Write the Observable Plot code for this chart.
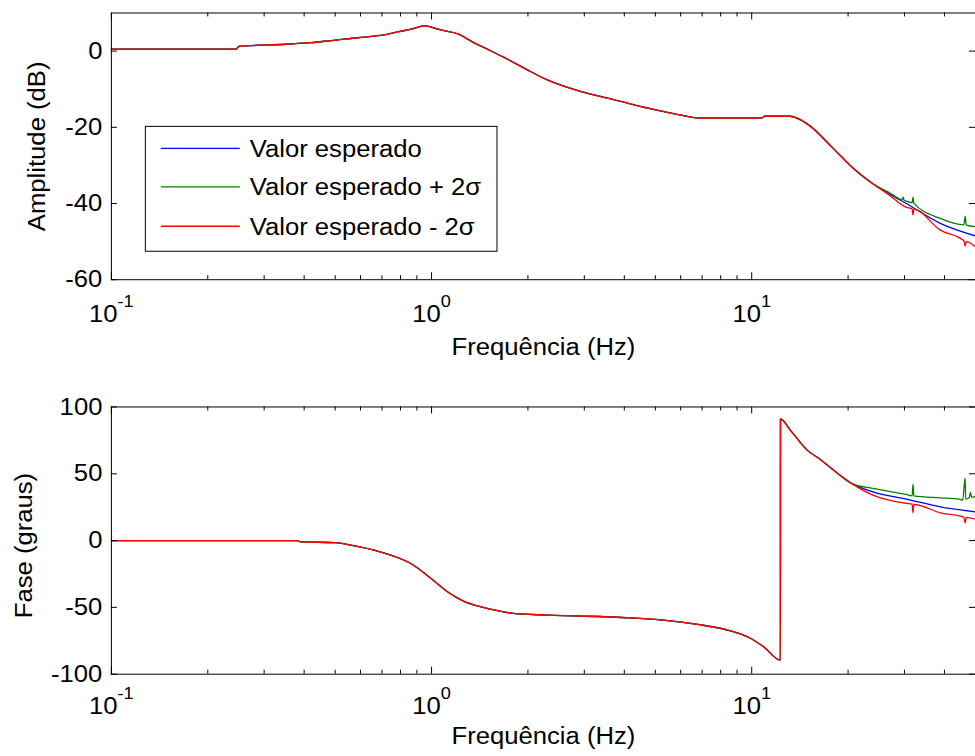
<!DOCTYPE html>
<html><head><meta charset="utf-8">
<script src="https://cdn.jsdelivr.net/npm/d3@7"></script>
<script src="https://cdn.jsdelivr.net/npm/@observablehq/plot@0.6"></script>
<style>
html,body{margin:0;padding:0;background:#fff;overflow:hidden;}
#chart{position:relative;width:975px;height:756px;overflow:hidden;}
#chart svg{display:block;}
</style></head><body><div id="chart"></div>
<script>
// ---------- data ----------
const decadeTicks = [0.1, 1, 10];
const decadeExp = ["-1", "0", "1"];
const minorTicks = [0.2,0.3,0.4,0.5,0.6,0.7,0.8,0.9,2,3,4,5,6,7,8,9,20,30,40];
const magTicks = [-60, -40, -20, 0];
const phaseTicks = [-100, -50, 0, 50, 100];
const legendLabels = ["Valor esperado", "Valor esperado + 2σ", "Valor esperado - 2σ"];
const seriesColors = ["#0000ff", "#008000", "#ff0000"];

// Amplitude (dB) — common part
const magFreqCommon = [0.1, 0.245, 0.25, 0.35, 0.42, 0.48, 0.54, 0.64, 0.72, 0.79, 0.87, 0.944, 1.0, 1.04, 1.21, 1.35, 1.53, 1.68, 2.03, 2.29, 2.98, 3.81, 4.82, 5.7, 6.9, 10.7, 11.0, 13.2, 14.9, 18.0, 20.3, 23.9];
const magCommon = [0.5, 0.5, 1.2, 1.8, 2.2, 2.7, 3.2, 3.8, 4.3, 5.1, 5.8, 6.6, 6.3, 5.8, 4.5, 2.3, 0.1, -1.6, -5.3, -7.5, -10.8, -13.0, -15.1, -16.4, -17.6, -17.6, -17.1, -17.1, -19.1, -25.6, -30.0, -34.8];
// Amplitude tails
const magFreqBlue = [27.1, 30.4, 38.8, 50];
const magBlue = [-37.6, -40.0, -45.2, -48.5];
const magFreqGreen = [27.1, 29.5, 29.7, 29.9, 30.4, 31.7, 31.9, 32.1, 38.8, 46.0, 46.4, 46.8, 50];
const magGreen = [-37.3, -39.0, -38.3, -39.1, -39.4, -39.8, -38.3, -39.9, -43.9, -45.6, -43.3, -45.7, -46.1];
const magFreqRed = [27.1, 30.4, 31.7, 31.9, 32.1, 38.8, 46.0, 46.4, 46.8, 50];
const magRed = [-38.0, -41.0, -41.4, -43.0, -41.5, -47.0, -49.8, -51.2, -50.0, -51.4];

// Phase (graus) — common part
const phFreqCommon = [0.1, 0.38, 0.39, 0.5, 0.56, 0.69, 0.877, 0.992, 1.121, 1.258, 1.42, 1.607, 1.80, 2.30, 4.18, 5.30, 6.77, 8.58, 9.70, 10.9, 12.29, 12.3, 13.2, 14.9, 16.5, 18.0, 20.5];
const phCommon = [0, 0, -1, -1.5, -3.4, -8.4, -18.3, -28, -38.3, -45.3, -49.5, -52.5, -54.5, -55.8, -57.8, -59.5, -62.7, -67.5, -72, -79.5, -89.5, 91, 82.7, 67.7, 60.2, 52.8, 42.8];
// Phase tails
const phFreqBlue = [23.9, 30.4, 38.8, 50];
const phBlue = [36.5, 31, 25.3, 21.5];
const phFreqGreen = [23.9, 30.4, 31.7, 31.9, 32.1, 38.8, 44.5, 45.6, 46.4, 46.6, 47.8, 48.2, 48.6, 50];
const phGreen = [39, 34.5, 33.5, 42, 33.5, 32, 31, 30.3, 47, 31, 32, 36, 32.5, 33];
const phFreqRed = [23.9, 30.4, 31.7, 31.9, 32.1, 38.8, 46.0, 46.4, 46.8, 50];
const phRed = [34, 27.8, 27.2, 20.8, 27, 20.8, 17.5, 13.3, 17.3, 15.9];

// ---------- build ----------
const rows = (fa, va) => fa.map((f, i) => ({f, v: va[i]}));
const magSeries = [
  rows(magFreqCommon.concat(magFreqBlue), magCommon.concat(magBlue)),
  rows(magFreqCommon.concat(magFreqGreen), magCommon.concat(magGreen)),
  rows(magFreqCommon.concat(magFreqRed), magCommon.concat(magRed))
];
const phSeries = [
  rows(phFreqCommon.concat(phFreqBlue), phCommon.concat(phBlue)),
  rows(phFreqCommon.concat(phFreqGreen), phCommon.concat(phGreen)),
  rows(phFreqCommon.concat(phFreqRed), phCommon.concat(phRed))
];

const FONT = "Arial, 'Liberation Sans', Helvetica, sans-serif";
const W = 976, ML = 111, MR = 0;
const FS = 24, FSE = 17, STRETCH = 1.07;
const charW = c => (c === "-" ? 0.333 : 0.556);
const strW = (s, fs) => [...s].reduce((a, c) => a + charW(c) * fs, 0) * STRETCH;

function panel(o) {
  const plotH = o.height - o.marginTop - o.marginBottom;
  const plotW = W - ML - MR;
  const w10 = strW("10", FS);
  const tickLabelMarks = decadeTicks.flatMap((t, i) => {
    const we = strW(decadeExp[i], FSE);
    const off = (w10 - we) / 2;
    return [
      Plot.text([t], {x: d => d, frameAnchor: "bottom", lineAnchor: "top", text: () => "10", textAnchor: "end", dx: off, dy: o.tickDy, fontSize: FS, fill: "black"}),
      Plot.text([t], {x: d => d, frameAnchor: "bottom", lineAnchor: "top", text: () => decadeExp[i], textAnchor: "start", dx: off, dy: o.tickDy - 10, fontSize: FSE, fill: "black"})
    ];
  });
  const marks = [
    ...o.series.map((s, i) => Plot.line(s, {x: "f", y: "v", stroke: seriesColors[i], strokeWidth: 1.3, curve: "monotone-x"})),
    Plot.frame({stroke: "black", strokeWidth: 1}),
    Plot.ruleX(minorTicks, {x: d => d, insetTop: plotH - 4, stroke: "black"}),
    Plot.ruleX(minorTicks, {x: d => d, insetBottom: plotH - 4, stroke: "black"}),
    Plot.ruleX(decadeTicks, {x: d => d, insetTop: plotH - 7, stroke: "black"}),
    Plot.ruleX(decadeTicks, {x: d => d, insetBottom: plotH - 7, stroke: "black"}),
    Plot.ruleY(o.yTicks, {y: d => d, insetRight: plotW - 6, stroke: "black"}),
    Plot.ruleY(o.yTicks, {y: d => d, insetLeft: plotW - 6, stroke: "black"}),
    Plot.axisY({ticks: o.yTicks, tickSize: 0, tickPadding: 9, tickFormat: d => String(d), fontSize: FS, label: null, fill: "black"}),
    ...tickLabelMarks,
    Plot.text([o.xlabel], {frameAnchor: "bottom", lineAnchor: "top", textAnchor: "middle", dy: o.xlabelDy, fontSize: FS, fill: "black"}),
    Plot.text([o.ylabel], {frameAnchor: "left", textAnchor: "middle", rotate: -90, dx: o.ylabelDx, dy: o.ylabelDy, fontSize: FS, fill: "black"})
  ];
  return Plot.plot({
    width: W, height: o.height,
    marginLeft: ML, marginRight: MR, marginTop: o.marginTop, marginBottom: o.marginBottom,
    x: {type: "log", domain: [0.1, 50], axis: null},
    y: {domain: o.yDomain, axis: null},
    style: {fontFamily: FONT, fontSize: FS + "px", color: "black", background: "white", overflow: "visible"},
    marks
  });
}

const magPlot = panel({
  height: 378, marginTop: 12.5, marginBottom: 98.5,
  yDomain: [-60, 10], yTicks: magTicks, series: magSeries,
  xlabel: "Frequência (Hz)", ylabel: "Amplitude (dB)",
  tickDy: 25.5, xlabelDy: 58, ylabelDx: -74, ylabelDy: 0
});
const phasePlot = panel({
  height: 378, marginTop: 28.5, marginBottom: 82,
  yDomain: [-100, 100], yTicks: phaseTicks, series: phSeries,
  xlabel: "Frequência (Hz)", ylabel: "Fase (graus)",
  tickDy: 23, xlabelDy: 53, ylabelDx: -87, ylabelDy: 5
});

const host = document.getElementById("chart");
host.appendChild(magPlot);
host.appendChild(phasePlot);

// legend (inside the amplitude axes)
const lg = d3.select(magPlot).append("g").attr("font-family", FONT).attr("font-size", FS).attr("text-anchor", "start");
lg.append("rect").attr("x", 145.5).attr("y", 126.5).attr("width", 352).attr("height", 125)
  .attr("fill", "white").attr("stroke", "black").attr("stroke-width", 1);
const rowY = [148.5, 187, 226.5];
legendLabels.forEach((t, i) => {
  lg.append("line").attr("x1", 161).attr("x2", 240).attr("y1", rowY[i]).attr("y2", rowY[i])
    .attr("stroke", seriesColors[i]).attr("stroke-width", 1.3);
  lg.append("text").attr("x", 250).attr("y", rowY[i]).attr("dy", "0.35em").attr("fill", "black").attr("text-anchor", "start").text(t);
});

// the reference's lettering is slightly wider than Arial: widen glyphs a little
document.querySelectorAll("#chart svg text").forEach(t => {
  const len = t.getComputedTextLength();
  if (len > 0) {
    t.setAttribute("textLength", (len * STRETCH).toFixed(2));
    t.setAttribute("lengthAdjust", "spacingAndGlyphs");
  }
});
</script></body></html>
